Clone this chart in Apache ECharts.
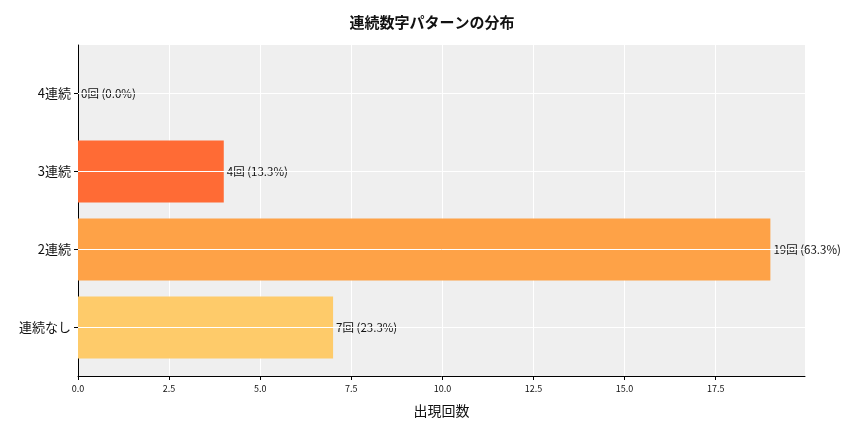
<!DOCTYPE html>
<html><head><meta charset="utf-8">
<script src="https://cdn.jsdelivr.net/npm/echarts@6/dist/echarts.min.js"></script>
<style>html,body{margin:0;padding:0;}#c{width:864px;height:432px;}</style>
</head><body><div id="c"></div>
<script>
//カテゴリ（下から上）
var categories = ['連続なし', '2連続', '3連続', '4連続'];
//出現回数
var counts = [7, 19, 4, 0];
//割合
var percents = [23.3, 63.3, 13.3, 0.0];
//色
var colors = ['#FECB6A', '#FEA247', '#FF6B35', '#FF4500'];

var font = '"Noto Sans CJK JP", "Noto Sans", sans-serif';
var chart = echarts.init(document.getElementById('c'));
chart.setOption({
	animation: false,
	textStyle: { fontFamily: font },
	title: {
		text: '連続数字パターンの分布', left: 'center', top: 10,
		textStyle: { fontSize: 15, fontWeight: 'bold', color: '#111', fontFamily: font }
	},
	grid: [
		{ left: 78, right: 59, top: 45, bottom: 56, show: true, backgroundColor: '#EFEFEF', borderWidth: 0 },
		{ left: 78, right: 59, top: 54.5, height: 312 }
	],
	xAxis: [{
		gridIndex: 0, type: 'value', min: 0, max: 19.95, interval: 2.5,
		name: '出現回数', nameLocation: 'middle', nameGap: 28,
		nameTextStyle: { fontSize: 14, color: '#111', fontFamily: font },
		axisLine: { show: true, lineStyle: { color: '#000' } },
		axisTick: { show: true, length: 4, lineStyle: { color: '#000' } },
		axisLabel: { fontSize: 9, color: '#111', formatter: function(v) { return v.toFixed(1); },
			showMaxLabel: false },
		splitLine: { show: true, lineStyle: { color: '#fff', width: 1 } }
	}, {
		gridIndex: 1, type: 'value', min: 0, max: 19.95, show: false
	}],
	yAxis: [{
		gridIndex: 0, type: 'value', min: 0, max: 1,
		axisLine: { show: true, lineStyle: { color: '#000' } },
		axisTick: { show: false }, axisLabel: { show: false }, splitLine: { show: false }
	}, {
		gridIndex: 1, type: 'category', data: categories,
		axisLine: { show: false },
		axisTick: { show: true, alignWithLabel: true, length: 4, lineStyle: { color: '#000' } },
		axisLabel: { fontSize: 13, color: '#111', margin: 7 }
	}],
	series: [{
		type: 'bar', xAxisIndex: 1, yAxisIndex: 1,
		barWidth: 62,
		data: counts.map(function(v, i) { return { value: v, itemStyle: { color: colors[i] } }; }),
		label: {
			show: true, position: 'right', distance: 3, fontSize: 11.5, color: '#111',
			formatter: function(p) { return counts[p.dataIndex] + '回 (' + percents[p.dataIndex].toFixed(1) + '%)'; }
		},
		markLine: {
			silent: true, symbol: 'none', label: { show: false },
			lineStyle: { color: '#fff', width: 1, type: 'solid' },
			data: categories.map(function(c) { return { yAxis: c }; })
		}
	}]
});
</script></body></html>
